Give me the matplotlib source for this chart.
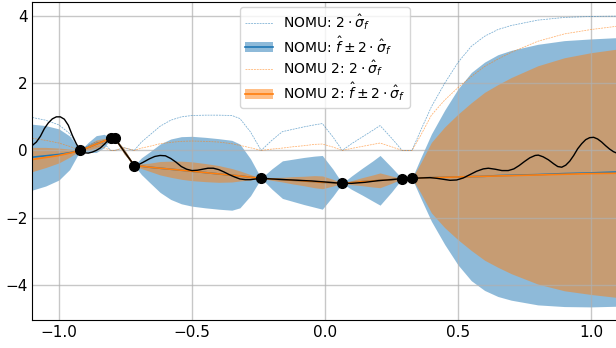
import matplotlib
matplotlib.use("Agg")
import matplotlib.pyplot as plt
import numpy as np
from matplotlib.patches import Patch
from matplotlib.lines import Line2D

# training points
x_train = [-0.92, -0.805, -0.79, -0.717, -0.24, 0.065, 0.29, 0.327]
y_train = [0.0, 0.36, 0.36, -0.45, -0.83, -0.98, -0.84, -0.83]

# true function samples
x_true = [-1.1, -1.085, -1.07, -1.055, -1.04, -1.025, -1.01, -0.995, -0.98, -0.965,
          -0.95, -0.935, -0.92, -0.905, -0.89, -0.875, -0.86, -0.845, -0.83, -0.815,
          -0.805, -0.79, -0.755, -0.717, -0.7, -0.683, -0.66, -0.64, -0.62, -0.6,
          -0.58, -0.56, -0.54, -0.52, -0.5, -0.48, -0.46, -0.44, -0.42, -0.4,
          -0.38, -0.36, -0.34, -0.32, -0.3, -0.28, -0.26, -0.24, -0.2, -0.15,
          -0.1, -0.05, 0.0, 0.03, 0.065, 0.1, 0.15, 0.2, 0.25, 0.29,
          0.327, 0.36, 0.395, 0.42, 0.445, 0.47, 0.495, 0.52, 0.545, 0.57,
          0.595, 0.614, 0.64, 0.665, 0.689, 0.71, 0.73, 0.75, 0.77, 0.79,
          0.802, 0.82, 0.84, 0.86, 0.875, 0.89, 0.905, 0.92, 0.935, 0.95,
          0.965, 0.98, 0.995, 1.01, 1.025, 1.04, 1.055, 1.07, 1.085, 1.1]
y_true = [0.15, 0.25, 0.42, 0.65, 0.82, 0.94, 1.0, 1.0, 0.93, 0.75,
          0.45, 0.2, 0.0, -0.07, -0.08, -0.05, 0.0, 0.07, 0.18, 0.3,
          0.36, 0.36, -0.03, -0.45, -0.42, -0.35, -0.25, -0.18, -0.15, -0.16,
          -0.24, -0.35, -0.48, -0.56, -0.6, -0.59, -0.56, -0.53, -0.53, -0.57,
          -0.64, -0.72, -0.79, -0.85, -0.87, -0.87, -0.85, -0.83, -0.85, -0.87,
          -0.89, -0.91, -0.94, -0.96, -0.98, -0.98, -0.95, -0.9, -0.87, -0.84,
          -0.83, -0.82, -0.81, -0.83, -0.86, -0.89, -0.88, -0.82, -0.72, -0.62,
          -0.55, -0.53, -0.56, -0.6, -0.6, -0.55, -0.45, -0.33, -0.22, -0.15,
          -0.14, -0.19, -0.28, -0.4, -0.48, -0.5, -0.44, -0.32, -0.15, 0.05,
          0.2, 0.32, 0.38, 0.39, 0.34, 0.25, 0.14, 0.04, -0.04, -0.09]

# model grid
x_grid = [-1.1, -1.05, -1.0, -0.96, -0.92, -0.89, -0.86, -0.83, -0.805, -0.79,
          -0.755, -0.717, -0.69, -0.66, -0.62, -0.58, -0.54, -0.5, -0.45, -0.4,
          -0.35, -0.32, -0.28, -0.24, -0.2, -0.16, -0.12, -0.08, -0.04, -0.01,
          0.03, 0.065, 0.1, 0.14, 0.18, 0.207, 0.25, 0.29, 0.327, 0.36,
          0.4, 0.45, 0.5, 0.55, 0.6, 0.65, 0.7, 0.8, 0.9, 1.0, 1.1]

mean_nomu = [-0.2, -0.16, -0.12, -0.07, 0.0, 0.09, 0.19, 0.28, 0.36, 0.36,
             -0.03, -0.45, -0.47, -0.5, -0.53, -0.56, -0.59, -0.62, -0.66, -0.7,
             -0.74, -0.76, -0.8, -0.83, -0.85, -0.87, -0.89, -0.91, -0.93, -0.95,
             -0.96, -0.98, -0.96, -0.93, -0.91, -0.89, -0.87, -0.84, -0.83, -0.82,
             -0.81, -0.8, -0.79, -0.78, -0.77, -0.75, -0.74, -0.72, -0.69, -0.67, -0.64]
sigma2_nomu = [0.98, 0.9, 0.76, 0.5, 0.0, 0.15, 0.25, 0.2, 0.0, 0.0,
               0.08, 0.0, 0.25, 0.45, 0.72, 0.9, 1.0, 1.04, 1.05, 1.05,
               1.04, 0.95, 0.55, 0.0, 0.3, 0.56, 0.63, 0.7, 0.76, 0.8,
               0.4, 0.0, 0.2, 0.4, 0.6, 0.74, 0.37, 0.0, 0.0, 0.6,
               1.3, 2.0, 2.62, 3.1, 3.4, 3.6, 3.72, 3.88, 3.96, 3.99, 4.0]

mean_nomu2 = [-0.27, -0.21, -0.15, -0.08, 0.0, 0.09, 0.19, 0.28, 0.36, 0.36,
              -0.03, -0.45, -0.47, -0.5, -0.53, -0.56, -0.59, -0.62, -0.66, -0.7,
              -0.74, -0.76, -0.8, -0.83, -0.85, -0.87, -0.89, -0.91, -0.93, -0.95,
              -0.96, -0.98, -0.96, -0.93, -0.91, -0.89, -0.87, -0.84, -0.83, -0.82,
              -0.81, -0.8, -0.79, -0.78, -0.77, -0.76, -0.75, -0.73, -0.71, -0.69, -0.68]
sigma2_nomu2 = [0.36, 0.3, 0.22, 0.12, 0.0, 0.08, 0.12, 0.08, 0.0, 0.0,
                0.08, 0.0, 0.07, 0.12, 0.2, 0.24, 0.27, 0.28, 0.27, 0.25,
                0.2, 0.15, 0.08, 0.0, 0.04, 0.07, 0.11, 0.14, 0.18, 0.19,
                0.1, 0.0, 0.06, 0.12, 0.18, 0.22, 0.11, 0.0, 0.0, 0.45,
                1.05, 1.5, 1.87, 2.2, 2.5, 2.72, 2.92, 3.25, 3.47, 3.6, 3.7]

labels = ['NOMU: $2\\cdot\\hat{\\sigma}_f$',
          'NOMU: $\\hat{f}\\pm2\\cdot\\hat{\\sigma}_f$',
          'NOMU 2: $2\\cdot\\hat{\\sigma}_f$',
          'NOMU 2: $\\hat{f}\\pm2\\cdot\\hat{\\sigma}_f$']

fig = plt.figure(figsize=(6.16, 3.48), dpi=100)
ax = fig.add_axes([32.4 / 616, 28 / 348, 585.2 / 616, 318 / 348])

xg = np.array(x_grid)
m1 = np.array(mean_nomu); s1 = np.array(sigma2_nomu)
m2 = np.array(mean_nomu2); s2 = np.array(sigma2_nomu2)

ds = (0, (2.5, 1.2))
l1, = ax.plot(xg, s1, color='C0', lw=0.55, ls=ds, alpha=0.6)
l3, = ax.plot(xg, s2, color='C1', lw=0.55, ls=ds, alpha=0.6)
f1 = ax.fill_between(xg, m1 - s1, m1 + s1, color='C0', alpha=0.5, lw=0)
ml1, = ax.plot(xg, m1, color='C0', lw=1.2)
f2 = ax.fill_between(xg, m2 - s2, m2 + s2, color='C1', alpha=0.5, lw=0)
ml2, = ax.plot(xg, m2, color='C1', lw=1.2)
ax.plot(x_true, y_true, color='black', lw=1.0)
ax.plot(x_train, y_train, 'o', color='black', ms=7)

ax.set_xlim(-1.1, 1.1)
ax.set_ylim(-5.05, 4.42)
ax.set_xticks([-1.0, -0.5, 0.0, 0.5, 1.0])
ax.set_yticks([-4, -2, 0, 2, 4])
ax.tick_params(labelsize=11, length=0)
ax.grid(True, color='#b0b0b0', lw=1.0, alpha=0.7)

h2 = (Patch(facecolor='C0', alpha=0.5), Line2D([], [], color='C0', lw=1.2))
h4 = (Patch(facecolor='C1', alpha=0.5), Line2D([], [], color='C1', lw=1.2))
ax.legend([l1, h2, l3, h4], labels, loc='upper center', fontsize=10,
          bbox_to_anchor=(0.5, 1.005), labelspacing=0.15, borderpad=0.35,
          handletextpad=0.7)

fig.savefig('out.png', dpi=100)
